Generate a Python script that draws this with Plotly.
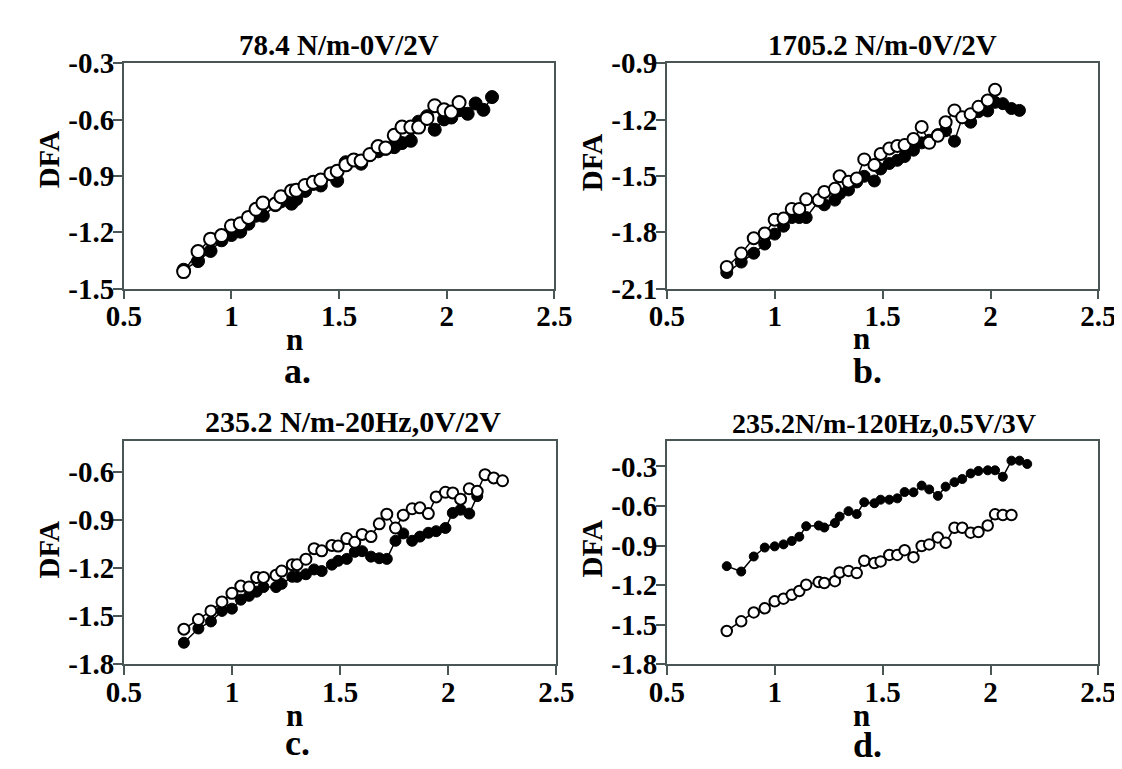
import plotly.graph_objects as go

# ---------------- data ----------------
X = [0.778, 0.845, 0.903, 0.954, 1.0, 1.041, 1.079, 1.114, 1.146, 1.204,
     1.230, 1.279, 1.301, 1.342, 1.380, 1.415, 1.462, 1.491, 1.531, 1.568,
     1.602, 1.643, 1.681, 1.716, 1.756, 1.792, 1.833, 1.869, 1.908, 1.944,
     1.987, 2.021, 2.057, 2.097, 2.134, 2.170, 2.210, 2.251]

a_filled = [-1.400, -1.354, -1.300, -1.243, -1.215, -1.197, -1.155, -1.112, -1.112, -1.056,
            -1.036, -1.048, -1.024, -0.980, -0.943, -0.951, -0.892, -0.926, -0.827, -0.815,
            -0.835, -0.790, -0.769, -0.756, -0.747, -0.725, -0.713, -0.611, -0.582, -0.654,
            -0.599, -0.589, -0.550, -0.569, -0.514, -0.548, -0.480]
a_open = [-1.410, -1.303, -1.237, -1.218, -1.167, -1.155, -1.121, -1.078, -1.045, -1.050,
          -1.011, -0.980, -0.977, -0.951, -0.934, -0.922, -0.888, -0.875, -0.841, -0.815,
          -0.820, -0.786, -0.744, -0.752, -0.684, -0.640, -0.640, -0.640, -0.594, -0.526,
          -0.548, -0.560, -0.509]

b_filled = [-2.015, -1.959, -1.912, -1.863, -1.810, -1.768, -1.722, -1.722, -1.722, -1.634,
            -1.654, -1.629, -1.595, -1.575, -1.532, -1.502, -1.527, -1.463, -1.434, -1.417,
            -1.397, -1.363, -1.324, -1.310, -1.280, -1.259, -1.315, -1.190, -1.214, -1.158,
            -1.154, -1.108, -1.115, -1.141, -1.151]
b_open = [-1.985, -1.914, -1.832, -1.807, -1.734, -1.727, -1.676, -1.676, -1.625, -1.629,
          -1.586, -1.569, -1.502, -1.531, -1.514, -1.412, -1.442, -1.383, -1.354, -1.341,
          -1.336, -1.303, -1.239, -1.324, -1.286, -1.214, -1.151, -1.188, -1.171, -1.132,
          -1.098, -1.041]

c_filled = [-1.666, -1.577, -1.533, -1.467, -1.453, -1.397, -1.373, -1.347, -1.318, -1.318,
            -1.298, -1.254, -1.254, -1.238, -1.208, -1.218, -1.178, -1.154, -1.142, -1.098,
            -1.094, -1.128, -1.138, -1.142, -1.029, -0.983, -1.029, -1.003, -0.979, -0.969,
            -0.949, -0.855, -0.835, -0.859, -0.750]
c_open = [-1.581, -1.521, -1.467, -1.411, -1.357, -1.312, -1.318, -1.258, -1.258, -1.244,
          -1.218, -1.178, -1.178, -1.144, -1.078, -1.092, -1.058, -1.062, -1.015, -1.038,
          -0.989, -1.003, -0.923, -0.863, -0.949, -0.869, -0.829, -0.823, -0.859, -0.755,
          -0.726, -0.730, -0.769, -0.704, -0.720, -0.616, -0.636, -0.654]

d_filled = [-1.056, -1.097, -0.983, -0.915, -0.906, -0.891, -0.865, -0.833, -0.753, -0.748,
            -0.763, -0.729, -0.680, -0.639, -0.661, -0.571, -0.579, -0.552, -0.552, -0.542,
            -0.494, -0.496, -0.445, -0.474, -0.523, -0.453, -0.419, -0.395, -0.353, -0.334,
            -0.329, -0.329, -0.378, -0.256, -0.256, -0.281]
d_open = [-1.548, -1.475, -1.407, -1.376, -1.323, -1.303, -1.274, -1.245, -1.197, -1.177,
          -1.184, -1.170, -1.104, -1.092, -1.109, -1.015, -1.032, -1.020, -0.971, -0.971,
          -0.935, -0.988, -0.903, -0.891, -0.838, -0.879, -0.765, -0.765, -0.802, -0.797,
          -0.748, -0.663, -0.668, -0.668]

titles = ["78.4 N/m-0V/2V", "1705.2 N/m-0V/2V", "235.2 N/m-20Hz,0V/2V", "235.2N/m-120Hz,0.5V/3V"]
panel_letters = ["a.", "b.", "c.", "d."]

x_ticks = [0.5, 1, 1.5, 2, 2.5]
x_ticktext = ["0.5", "1", "1.5", "2", "2.5"]
y_ticks_a = [-1.5, -1.2, -0.9, -0.6, -0.3]
y_ticks_b = [-2.1, -1.8, -1.5, -1.2, -0.9]
y_ticks_c = [-1.8, -1.5, -1.2, -0.9, -0.6]
y_ticks_d = [-1.8, -1.5, -1.2, -0.9, -0.6, -0.3]

# ---------------- figure ----------------
W, H = 1122, 769
FONT = "Liberation Serif, Times New Roman, serif"
AXC = "#4a5656"

panels = [
    dict(filled=a_filled, opn=a_open, yt=y_ticks_a, yr=[-1.5, -0.3], px=(101, 546), py=(41, 276),
         ms_f=13, ms_o=13, title_xy=(323, 22), tsize=29, n_xy=(277, 329), l_xy=(280, 362), dfa_xy=(24, 141)),
    dict(filled=b_filled, opn=b_open, yt=y_ticks_b, yr=[-2.1, -0.9], px=(662, 1108), py=(41, 276),
         ms_f=12, ms_o=12, title_xy=(885, 22), tsize=29, n_xy=(863, 328), l_xy=(869, 362), dfa_xy=(585, 144)),
    dict(filled=c_filled, opn=c_open, yt=y_ticks_c, yr=[-1.8, -0.405], px=(101, 548), py=(435, 668),
         ms_f=11, ms_o=11, title_xy=(338, 415), tsize=30, n_xy=(277, 722), l_xy=(280, 750), dfa_xy=(24, 548)),
    dict(filled=d_filled, opn=d_open, yt=y_ticks_d, yr=[-1.8, -0.106], px=(662, 1108), py=(435, 668),
         ms_f=9, ms_o=10.5, title_xy=(886, 417), tsize=28, n_xy=(863, 722), l_xy=(869, 752), dfa_xy=(585, 547)),
]

fig = go.Figure()
annotations = []

def fmt(v):
    return f"{v:.1f}"

for i, p in enumerate(panels):
    k = "" if i == 0 else str(i + 1)
    xa, ya = "x" + k, "y" + k
    nf, no = len(p["filled"]), len(p["opn"])
    fig.add_trace(go.Scatter(
        x=X[:nf], y=p["filled"], xaxis=xa, yaxis=ya, mode="lines+markers",
        line=dict(color="black", width=1.5),
        marker=dict(symbol="circle", size=p["ms_f"], color="black", line=dict(color="black", width=1)),
        showlegend=False, cliponaxis=False))
    fig.add_trace(go.Scatter(
        x=X[:no], y=p["opn"], xaxis=xa, yaxis=ya, mode="lines+markers",
        line=dict(color="black", width=1.5),
        marker=dict(symbol="circle", size=p["ms_o"], color="white", line=dict(color="black", width=2)),
        showlegend=False, cliponaxis=False))

    axis_common = dict(showline=True, linecolor=AXC, linewidth=1.5, mirror=True,
                       ticks="outside", ticklen=9, tickwidth=1.5, tickcolor=AXC,
                       showgrid=False, zeroline=False,
                       tickfont=dict(family=FONT, size=29, color="black", weight="bold"))
    fig.update_layout(**{
        "xaxis" + k: dict(domain=[p["px"][0] / W, p["px"][1] / W], range=[0.5, 2.5],
                          tickvals=x_ticks, ticktext=x_ticktext, anchor=ya,
                          ticklabelstandoff=-8, **axis_common),
        "yaxis" + k: dict(domain=[1 - p["py"][1] / H, 1 - p["py"][0] / H], range=p["yr"],
                          tickvals=p["yt"], ticktext=[fmt(v) for v in p["yt"]], anchor=xa,
                          ticklabelstandoff=-7, **axis_common),
    })

    def ann(text, xy, size, angle=0):
        annotations.append(dict(text=text, x=xy[0] / W, y=1 - xy[1] / H, xref="paper", yref="paper",
                                xanchor="center", yanchor="middle", showarrow=False, textangle=angle,
                                font=dict(family=FONT, size=size, color="black", weight="bold")))

    ann(titles[i], p["title_xy"], p["tsize"])
    ann("n", p["n_xy"], 31)
    ann(panel_letters[i], p["l_xy"], 36)
    ann("DFA", p["dfa_xy"], 29, -90)

fig.update_layout(width=W, height=H, margin=dict(l=0, r=0, t=0, b=0),
                  paper_bgcolor="white", plot_bgcolor="white",
                  annotations=annotations, showlegend=False)

fig.write_html("out.html")
